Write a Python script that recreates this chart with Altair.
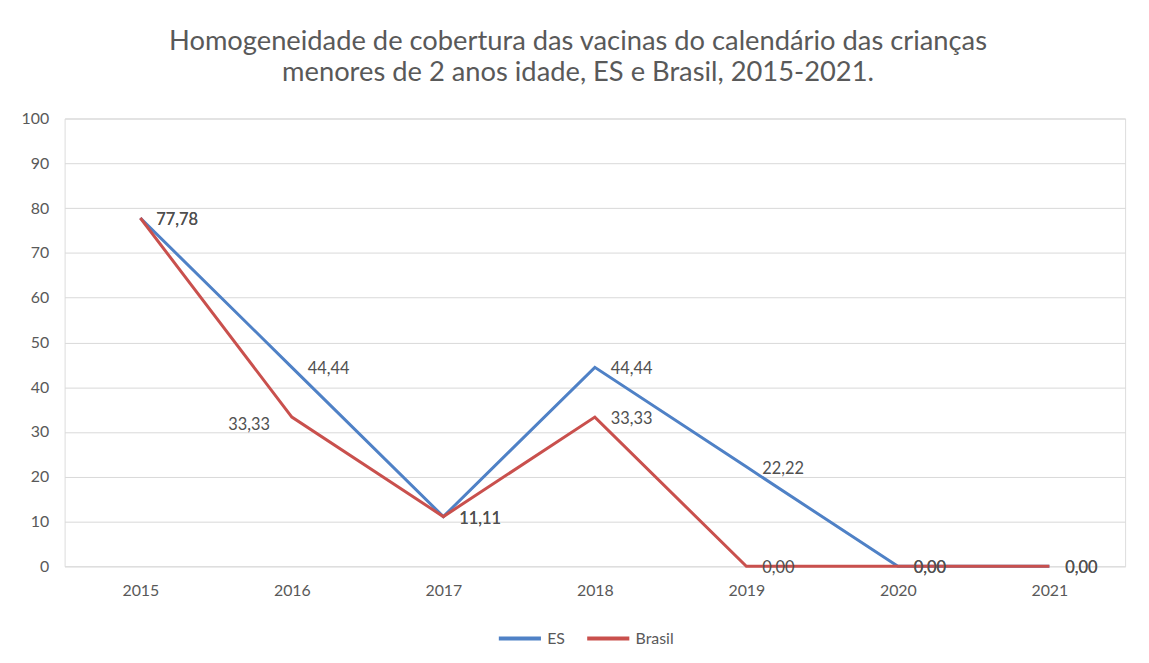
import altair as alt
import pandas as pd

years = ["2015", "2016", "2017", "2018", "2019", "2020", "2021"]
es = [77.78, 44.44, 11.11, 44.44, 22.22, 0.00, 0.00]
brasil = [77.78, 33.33, 11.11, 33.33, 0.00, 0.00, 0.00]
series_names = ["ES", "Brasil"]
colors = ["#4f81c6", "#c9504d"]

rows = []
for name, vals in zip(series_names, [es, brasil]):
    for y, v in zip(years, vals):
        rows.append({"ano": y, "valor": v, "serie": name})
df = pd.DataFrame(rows)

FONT = "Lato"
GRAY = "#595959"
LABEL = "#505050"

x = alt.X("ano:N", sort=years, scale=alt.Scale(type="point", padding=0.5),
          axis=alt.Axis(title=None, labelAngle=0, ticks=False, domain=False, grid=False,
                        labelFontSize=16, labelColor=GRAY, labelPadding=16, labelFont=FONT))
y = alt.Y("valor:Q", scale=alt.Scale(domain=[0, 100], nice=False),
          axis=alt.Axis(title=None, values=list(range(0, 101, 10)), ticks=False, domain=False,
                        gridColor="#d9d9d9", gridWidth=1, labelFontSize=16, labelColor=GRAY,
                        labelPadding=16, labelFont=FONT))

base = alt.Chart(df)

lines = base.mark_line(strokeWidth=3).encode(
    x=x, y=y,
    color=alt.Color("serie:N", sort=series_names,
                    scale=alt.Scale(domain=series_names, range=colors),
                    legend=alt.Legend(title=None, orient="none", legendX=435, legendY=500,
                                      direction="horizontal", symbolType="stroke",
                                      symbolStrokeWidth=4, symbolSize=1800,
                                      labelFontSize=16, labelColor=GRAY, labelFont=FONT,
                                      columnPadding=14, labelOffset=4)),
    order=alt.Order("serie:N", sort="descending"),
)

lab = base.transform_calculate(
    txt="replace(format(datum.valor, '.2f'), '.', ',')"
)

labels_right = lab.transform_filter(
    "!(datum.serie == 'Brasil' && datum.ano == '2016')"
).mark_text(align="left", baseline="middle", dx=16, dy=2, fontSize=16.5,
            font=FONT, color=LABEL).encode(x=x, y=y, text="txt:N")

labels_left = lab.transform_filter(
    "datum.serie == 'Brasil' && datum.ano == '2016'"
).mark_text(align="right", baseline="middle", dx=-22, dy=8, fontSize=16.5,
            font=FONT, color=LABEL).encode(x=x, y=y, text="txt:N")

chart = alt.layer(lines, labels_right, labels_left).properties(
    width=1068, height=451,
    title=alt.TitleParams(
        text=["Homogeneidade de cobertura das vacinas do calendário das crianças",
              "menores de 2 anos idade, ES e Brasil, 2015-2021."],
        fontSize=27.5, font=FONT, color=GRAY, fontWeight="normal",
        anchor="middle", dx=-17, offset=24, lineHeight=32),
    autosize=alt.AutoSizeParams(type="none"),
    padding={"left": 57, "top": 109, "right": 16, "bottom": 90},
).configure_view(stroke=None).configure(background="white")

chart.save("out.html", embed_options={"renderer": "svg", "actions": False})
